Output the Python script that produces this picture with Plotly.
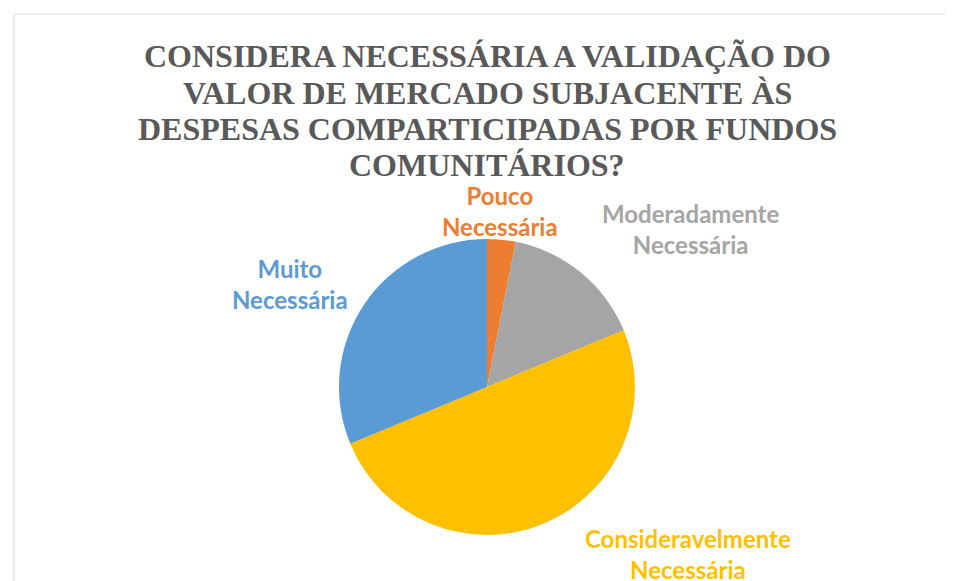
import plotly.graph_objects as go

# survey answers, clockwise from 12 o'clock
labels = ["Pouco Necessária", "Moderadamente Necessária",
          "Consideravelmente Necessária", "Muito Necessária"]
label_text = ["Pouco<br>Necessária", "Moderadamente<br>Necessária",
              "Consideravelmente<br>Necessária", "Muito<br>Necessária"]
counts = [1, 5, 16, 10]
colors = ["#ED7D31", "#A5A5A5", "#FFC000", "#5B9BD5"]

title_lines = ["CONSIDERA NECESSÁRIA A VALIDAÇÃO DO",
               "VALOR DE MERCADO SUBJACENTE ÀS",
               "DESPESAS COMPARTICIPADAS POR FUNDOS",
               "COMUNITÁRIOS?"]

# page body adds an 8px margin, so the figure is drawn shifted by OFF
OFF = 8
W, H = 953 - OFF, 581 - OFF


def fx(px):
    return (px - OFF) / W


def fy(py):
    return 1 - (py - OFF) / H


cx, cy, r = 487, 387, 148

fig = go.Figure()
fig.add_trace(go.Pie(
    labels=labels,
    values=counts,
    sort=False,
    direction="clockwise",
    rotation=0,
    marker=dict(colors=colors, line=dict(width=0)),
    textinfo="none",
    hoverinfo="label+value+percent",
    showlegend=False,
    domain=dict(x=[fx(cx - r), fx(cx + r)], y=[fy(cy + r), fy(cy - r)]),
))

# label block centers in reference pixels, same order as labels
label_pos = [(500, 211), (690, 229), (688, 554), (290, 284)]
for txt, col, (px, py) in zip(label_text, colors, label_pos):
    fig.add_annotation(
        x=fx(px), y=fy(py), xref="paper", yref="paper",
        text=txt, showarrow=False, xanchor="center", yanchor="middle",
        font=dict(family="Lato", size=24, color=col, weight="bold"),
    )

# title drawn line by line for tighter spacing
for i, line in enumerate(title_lines):
    fig.add_annotation(
        x=fx(487), y=fy(56 + 36.5 * i), xref="paper", yref="paper",
        text=line, showarrow=False, xanchor="center", yanchor="middle",
        font=dict(family="Liberation Serif", size=32, color="#595959",
                  weight="bold"),
    )

# chart area frame (extends past the screenshot)
fig.add_shape(type="line", xref="paper", yref="paper",
              x0=fx(14), x1=fx(14), y0=0, y1=fy(14),
              line=dict(color="#D9D9D9", width=1))
fig.add_shape(type="line", xref="paper", yref="paper",
              x0=fx(14), x1=1, y0=fy(14), y1=fy(14),
              line=dict(color="#D9D9D9", width=1))

fig.update_layout(
    width=W, height=H,
    margin=dict(l=0, r=0, t=0, b=0),
    paper_bgcolor="white",
    plot_bgcolor="white",
)

fig.write_html("out.html")
